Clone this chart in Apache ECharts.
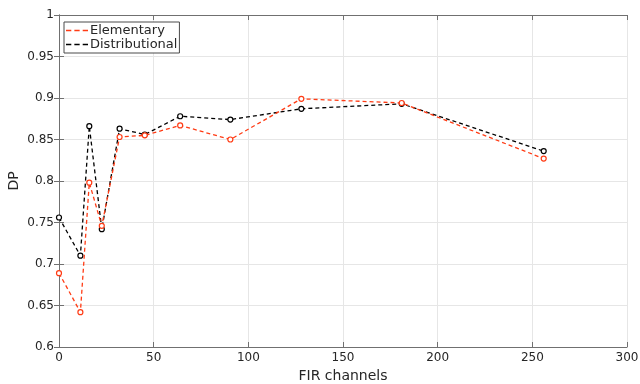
<!DOCTYPE html>
<html>
<head>
<meta charset="utf-8">
<script src="https://cdn.jsdelivr.net/npm/echarts@6/dist/echarts.min.js"></script>
<style>
  html, body { margin: 0; padding: 0; background: #fff; }
  #chart { width: 640px; height: 384px; }
</style>
</head>
<body>
<div id="chart"></div>
<script>
// FIR channel counts and detection performance for both estimators
const channels = [0, 11.3, 16, 22.6, 32, 45.3, 64, 90.5, 128, 181, 256];
const elementary = [0.689, 0.642, 0.798, 0.746, 0.853, 0.855, 0.867, 0.850, 0.899, 0.894, 0.827];
const distributional = [0.756, 0.710, 0.866, 0.742, 0.863, 0.856, 0.878, 0.874, 0.887, 0.893, 0.836];
const seriesNames = ['Elementary', 'Distributional'];
const seriesColors = ['#ff3b14', '#000000'];

const pairs = (xs, ys) => xs.map((x, i) => [x, ys[i]]);

const axisGray = '#707070';
const textColor = '#262626';
const font = 'DejaVu Sans';

// three short dashes as the legend sample
const dashIcon = 'path://M0,0h5.3v1.4h-5.3z M8.35,0h5.3v1.4h-5.3z M16.7,0h5.3v1.4h-5.3z';

const baseX = {
  type: 'value', min: 0, max: 300, interval: 50,
  axisLine: { show: true, lineStyle: { color: axisGray, width: 1 } },
  axisTick: { show: true, inside: true, length: 5, lineStyle: { color: axisGray } },
  splitLine: { show: false }
};
const baseY = {
  type: 'value', min: 0.6, max: 1, interval: 0.05,
  axisLine: { show: true, lineStyle: { color: axisGray, width: 1 } },
  axisTick: { show: true, inside: true, length: 5, lineStyle: { color: axisGray } },
  splitLine: { show: false }
};

const chart = echarts.init(document.getElementById('chart'));
chart.setOption({
  animation: false,
  backgroundColor: '#ffffff',
  grid: { left: 59, right: 13, top: 15, bottom: 37, outerBoundsMode: 'none' },
  legend: {
    left: 64, top: 22,
    orient: 'vertical',
    padding: [2, 2, 2, 2],
    itemGap: 1,
    itemWidth: 22, itemHeight: 1.4,
    borderColor: '#4a4a4a', borderWidth: 1,
    backgroundColor: '#ffffff',
    symbolKeepAspect: false,
    data: seriesNames.map((n, i) => ({
      name: n,
      icon: dashIcon,
      itemStyle: { color: seriesColors[i], borderWidth: 0 }
    })),
    textStyle: { fontFamily: font, fontSize: 13, color: textColor, padding: [0, 0, 0, -3] }
  },
  xAxis: [
    Object.assign({}, baseX, {
      position: 'bottom',
      name: 'FIR channels', nameLocation: 'middle', nameGap: 22,
      nameMoveOverlap: false,
      nameTextStyle: { fontFamily: font, fontSize: 14, color: textColor },
      axisLabel: { fontFamily: font, fontSize: 12, color: textColor, margin: 5 },
      splitLine: { show: true, lineStyle: { color: '#e6e6e6', width: 1 } }
    }),
    Object.assign({}, baseX, { position: 'top', axisLabel: { show: false } })
  ],
  yAxis: [
    Object.assign({}, baseY, {
      position: 'left',
      name: 'DP', nameLocation: 'middle', nameGap: 38,
      nameMoveOverlap: false,
      nameTextStyle: { fontFamily: font, fontSize: 14, color: textColor },
      axisLabel: { fontFamily: font, fontSize: 12, color: textColor, margin: 5 },
      splitLine: { show: true, lineStyle: { color: '#e6e6e6', width: 1 } }
    }),
    Object.assign({}, baseY, { position: 'right', axisLabel: { show: false } })
  ],
  series: [elementary, distributional].map((vals, i) => ({
    name: seriesNames[i],
    type: 'line',
    data: pairs(channels, vals),
    color: seriesColors[i],
    symbol: 'circle',
    symbolSize: 5,
    showAllSymbol: true,
    itemStyle: { color: '#ffffff', borderColor: seriesColors[i], borderWidth: 1.2 },
    lineStyle: { color: seriesColors[i], width: 1.3, type: [4, 3] },
    z: 3 - i
  }))
});
</script>
</body>
</html>
